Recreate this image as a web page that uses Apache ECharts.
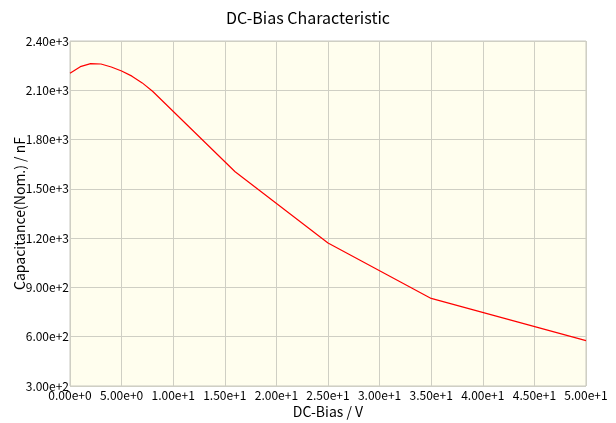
<!DOCTYPE html>
<html><head><meta charset="utf-8">
<script src="https://cdn.jsdelivr.net/npm/echarts@6/dist/echarts.min.js"></script>
<style>html,body{margin:0;padding:0;background:#fff}#c{width:616px;height:423px}</style>
</head><body><div id="c"></div>
<script>
const biasV = [0, 1, 2, 3, 4, 5, 6, 7, 8, 16, 25, 35, 50];
const capNF = [2203, 2244, 2262, 2260, 2242, 2217, 2186, 2145, 2094, 1604, 1170, 833, 576];
const titleText = 'DC-Bias Characteristic';
const xName = 'DC-Bias / V';
const yName = 'Capacitance(Nom.) / nF';
const font = '"Noto Sans CJK JP", "DejaVu Sans", sans-serif';
const fmt = v => Number(v).toExponential(2);
const chart = echarts.init(document.getElementById('c'), null, {renderer: 'canvas'});
chart.setOption({
  animation: false,
  title: {text: titleText, left: 'center', top: 5, textStyle: {fontFamily: font, fontSize: 16, fontWeight: 'normal', color: '#000'}},
  grid: {left: 70, right: 30, top: 41, bottom: 37, containLabel: false, outerBoundsMode: 'none', show: true, backgroundColor: '#fffeee', borderColor: '#c8c8c0', borderWidth: 1},
  xAxis: {
    type: 'value', min: 0, max: 50, interval: 5,
    name: xName, nameLocation: 'middle', nameGap: 19, nameMoveOverlap: false,
    nameTextStyle: {fontFamily: font, fontSize: 14, color: '#000'},
    axisLine: {show: false}, axisTick: {show: false},
    axisLabel: {formatter: fmt, fontFamily: font, fontSize: 12, color: '#000', margin: 3, showMinLabel: true, showMaxLabel: true},
    splitLine: {show: true, lineStyle: {color: '#cfcfc4', width: 1}}
  },
  yAxis: {
    type: 'value', min: 300, max: 2400, interval: 300,
    name: yName, nameLocation: 'middle', nameGap: 43, nameRotate: 90, nameMoveOverlap: false,
    nameTextStyle: {fontFamily: font, fontSize: 14, color: '#000'},
    axisLine: {show: false}, axisTick: {show: false},
    axisLabel: {formatter: fmt, fontFamily: font, fontSize: 12, color: '#000', margin: 1, showMinLabel: true, showMaxLabel: true},
    splitLine: {show: true, lineStyle: {color: '#cfcfc4', width: 1}}
  },
  series: [{
    type: 'line', data: biasV.map((x, i) => [x, capNF[i]]),
    showSymbol: false, smooth: false,
    lineStyle: {color: '#ff0000', width: 1.2}
  }]
});
</script></body></html>
